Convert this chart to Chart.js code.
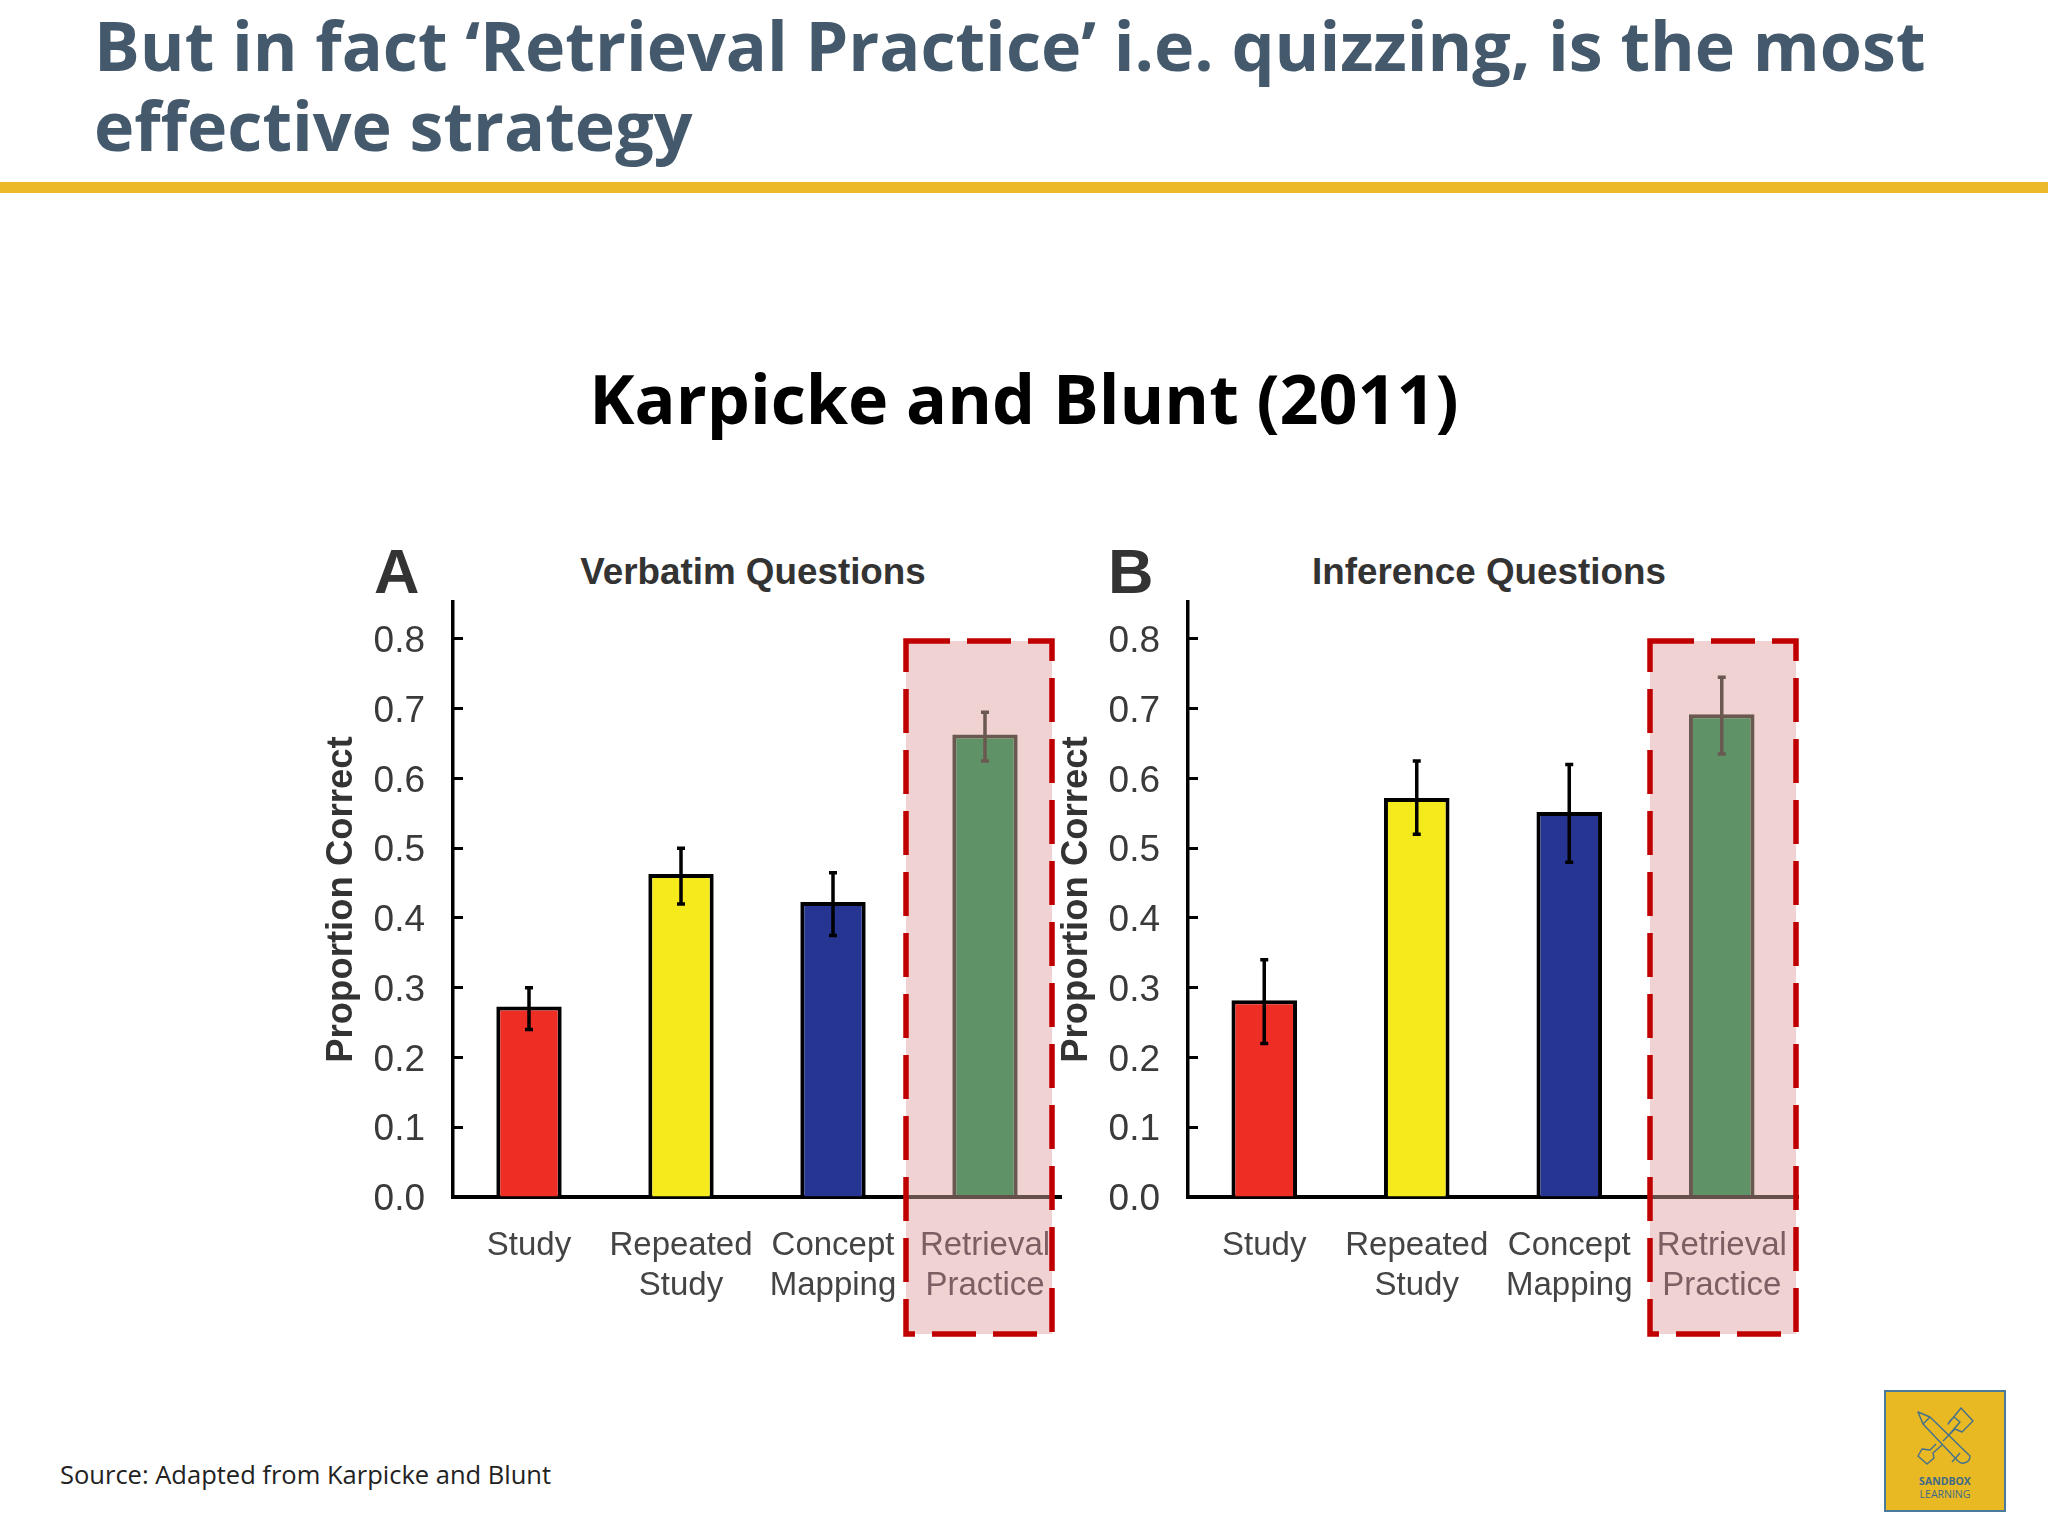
<!DOCTYPE html>
<html>
<head>
<meta charset="utf-8">
<title>Karpicke and Blunt (2011)</title>
<script src="https://cdn.jsdelivr.net/npm/chart.js@4"></script>
<style>
  html, body { margin: 0; background: #fff; }
  body { position: relative; width: 2048px; height: 1536px; overflow: hidden; font-family: "Open Sans", sans-serif; }
  .abs { position: absolute; white-space: nowrap; }
  #slideTitle { left: 94px; top: 5px; font-size: 68.2px; line-height: 80px; font-weight: 700; color: #44596b; }
  #rule { left: 0; top: 182px; width: 2048px; height: 11px; background: #ecb92b; }
  #subTitle { left: 0; width: 2048px; text-align: center; top: 353px; font-size: 68.2px; line-height: 90px; font-weight: 700; color: #000; }
  #source { left: 60px; top: 1456px; font-size: 25.5px; line-height: 36px; color: #222; }
  .panelLetter { font-family: "Liberation Sans", sans-serif; font-weight: 700; font-size: 63px; line-height: 60px; color: #333; top: 541px; }
  .panelTitle { font-family: "Liberation Sans", sans-serif; font-weight: 700; font-size: 36.8px; line-height: 40px; color: #333; top: 552px; transform: translateX(-50%); }
  canvas { position: absolute; top: 590px; }
  #logo { left: 1860px; top: 1370px; }
</style>
</head>
<body>
<div class="abs" id="slideTitle">But in fact ‘Retrieval Practice’ i.e. quizzing, is the most<br>effective strategy</div>
<div class="abs" id="rule"></div>
<div class="abs" id="subTitle">Karpicke and Blunt (2011)</div>

<div class="abs panelLetter" style="left:374px">A</div>
<div class="abs panelTitle" style="left:753px">Verbatim Questions</div>
<div class="abs panelLetter" style="left:1108px">B</div>
<div class="abs panelTitle" style="left:1489px">Inference Questions</div>

<canvas id="chartA" width="753" height="755" style="left:320px;width:753px;height:755px"></canvas>
<canvas id="chartB" width="753" height="755" style="left:1055px;width:753px;height:755px"></canvas>

<div class="abs" id="source">Source: Adapted from Karpicke and Blunt</div>

<svg class="abs" id="logo" width="188" height="166" viewBox="0 0 188 166">
  <rect x="25" y="21" width="120" height="120" fill="#e8b923" stroke="#4a7a9c" stroke-width="2"/>
  <g fill="none" stroke="#44708f" stroke-width="1.4" stroke-linejoin="round">
    <path d="M58 42 L70 47 L110 86 Q110 92 104 93 Q101 94 98 91 L63 54 Z"/>
    <path d="M63 54 L70 47"/>
    <path d="M100 83 L92 92"/>
    <path d="M88 66 L100 52 L94 47 Q90 50 88 54 L101 38 L113 51 L102 62 L95 59 L83 71"/>
    <path d="M76 74 L70 80 L62 79 L58 86 L67 94 L74 88 L73 83 L82 75"/>
  </g>
  <text x="85" y="115" text-anchor="middle" font-family="Open Sans" font-weight="700" font-size="10.5" fill="#3f6a88">SANDBOX</text>
  <text x="85" y="128" text-anchor="middle" font-family="Open Sans" font-size="10.5" fill="#3f6a88">LEARNING</text>
</svg>

<script>
const categories = [['Study'], ['Repeated', 'Study'], ['Concept', 'Mapping'], ['Retrieval', 'Practice']];
const barColors = ['#ee2e24', '#f5eb1c', '#263592', '#4fb37e'];
const lineColors = ['#000', '#000', '#000', '#5d6d63'];
const labelColors = ['#444', '#444', '#444', '#737379'];
const yTicks = [0, 0.1, 0.2, 0.3, 0.4, 0.5, 0.6, 0.7, 0.8];

const verbatimValues = [0.273, 0.463, 0.423, 0.663];
const verbatimLow = [0.24, 0.42, 0.375, 0.625];
const verbatimHigh = [0.30, 0.50, 0.465, 0.695];

const inferenceValues = [0.282, 0.572, 0.552, 0.692];
const inferenceLow = [0.22, 0.52, 0.48, 0.635];
const inferenceHigh = [0.34, 0.625, 0.62, 0.745];

Chart.defaults.font.family = "'Liberation Sans', sans-serif";
Chart.defaults.animation = false;

// error bars, read through the chart's own scales
const errorBars = {
    id: 'errorBars',
    afterDatasetsDraw: function (chart, args, opts) {
        const ctx = chart.ctx;
        const { x, y } = chart.scales;
        ctx.save();
        ctx.lineWidth = 3.5;
        opts.low.forEach((low, i) => {
            const px = x.getPixelForValue(i);
            const top = y.getPixelForValue(opts.high[i]);
            const bottom = y.getPixelForValue(low);
            ctx.strokeStyle = lineColors[i];
            ctx.beginPath();
            ctx.moveTo(px, top);
            ctx.lineTo(px, bottom);
            ctx.moveTo(px - 4, top);
            ctx.lineTo(px + 4, top);
            ctx.moveTo(px - 4, bottom);
            ctx.lineTo(px + 4, bottom);
            ctx.stroke();
        });
        ctx.restore();
    }
};

// the dashed red box over the last category
const highlightBox = {
    id: 'highlightBox',
    afterDraw: function (chart, args, opts) {
        const ctx = chart.ctx;
        const w = opts.right - opts.left;
        const h = opts.bottom - opts.top;
        const base = chart.scales.y.getPixelForValue(0);
        ctx.save();
        ctx.fillStyle = 'rgba(170, 0, 0, 0.175)';
        ctx.fillRect(opts.left, opts.top, w, h);
        // axis looks washed out under the box
        ctx.strokeStyle = '#65504c';
        ctx.lineWidth = 4;
        ctx.beginPath();
        ctx.moveTo(opts.left, base);
        ctx.lineTo(opts.right, base);
        ctx.stroke();
        ctx.strokeStyle = '#c00000';
        ctx.lineWidth = 5.5;
        ctx.setLineDash([44, 17]);
        ctx.strokeRect(opts.left, opts.top, w, h);
        ctx.restore();
    }
};

// keep the plot area where the reference has it: no overflow padding from the labels
function clearPadding(scale) {
    scale.paddingTop = 0;
    scale.paddingBottom = 0;
    scale.paddingLeft = 0;
    scale.paddingRight = 0;
}

function makeChart(id, values, low, high, boxLeft, rightPad) {
    return new Chart(document.getElementById(id), {
        type: 'bar',
        data: {
            labels: categories,
            datasets: [{
                data: values,
                backgroundColor: barColors,
                borderColor: lineColors,
                borderWidth: 4,
                barPercentage: 0.43,
                categoryPercentage: 1
            }]
        },
        options: {
            responsive: false,
            layout: { padding: { top: 12, right: rightPad, bottom: 0, left: 0 } },
            plugins: {
                legend: { display: false },
                tooltip: { enabled: false },
                errorBars: { low: low, high: high },
                highlightBox: { left: boxLeft, right: boxLeft + 146, top: 51, bottom: 744 }
            },
            scales: {
                x: {
                    afterFit: function (scale) {
                        scale.height = 148;
                        clearPadding(scale);
                    },
                    grid: { display: false, drawTicks: false },
                    border: { display: true, color: '#000', width: 4 },
                    ticks: {
                        color: ctx => labelColors[ctx.index],
                        padding: 28,
                        maxRotation: 0,
                        autoSkip: false,
                        font: { size: 33, lineHeight: 1.24 }
                    }
                },
                y: {
                    min: 0,
                    max: 0.853,
                    afterFit: function (scale) {
                        scale.width = 133;
                        clearPadding(scale);
                    },
                    afterBuildTicks: function (scale) {
                        scale.ticks = yTicks.map(v => ({ value: v }));
                    },
                    title: {
                        display: true,
                        text: 'Proportion Correct',
                        color: '#333',
                        padding: 0,
                        font: { size: 36.5, weight: 'bold' }
                    },
                    grid: {
                        drawOnChartArea: false,
                        drawTicks: true,
                        tickLength: -10,
                        tickWidth: 3,
                        tickColor: '#000'
                    },
                    border: { display: true, color: '#000', width: 3.5 },
                    ticks: {
                        color: '#3a3a3a',
                        padding: 38,
                        labelOffset: 3,
                        font: { size: 37 },
                        callback: function (value) { return value.toFixed(1); }
                    }
                }
            }
        },
        plugins: [errorBars, highlightBox]
    });
}

makeChart('chartA', verbatimValues, verbatimLow, verbatimHigh, 586, 12);
makeChart('chartB', inferenceValues, inferenceLow, inferenceHigh, 595, 10);
</script>
</body>
</html>
